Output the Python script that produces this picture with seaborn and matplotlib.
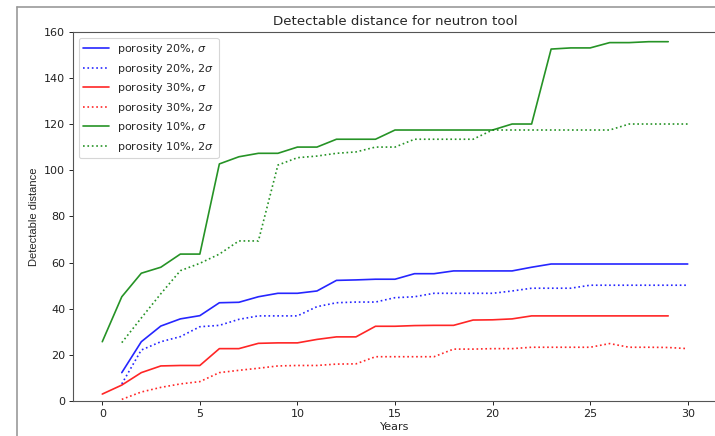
import matplotlib
matplotlib.use("Agg")
import matplotlib.pyplot as plt
from matplotlib.lines import Line2D
import seaborn as sns
import numpy as np

# ---- data ----
years_0_29 = list(range(0, 30))
years_1_30 = list(range(1, 31))

p20_sigma = [12.3, 25.7, 32.5, 35.6, 37.0, 42.6, 42.8, 45.2, 46.7, 46.7,
             47.7, 52.3, 52.5, 52.8, 52.8, 55.2, 55.2, 56.4, 56.4, 56.4,
             56.4, 58.0, 59.4, 59.4, 59.4, 59.4, 59.4, 59.4, 59.4, 59.4]
p20_2sigma = [7.4, 22.1, 25.7, 27.9, 32.2, 32.8, 35.4, 36.9, 36.9, 36.9,
              40.9, 42.6, 42.9, 42.9, 44.8, 45.2, 46.7, 46.7, 46.7, 46.7,
              47.7, 48.9, 48.9, 48.9, 50.2, 50.2, 50.2, 50.2, 50.2, 50.2]
p30_sigma = [3.0, 6.9, 12.3, 15.2, 15.4, 15.4, 22.7, 22.7, 25.0, 25.2,
             25.2, 26.7, 27.8, 27.8, 32.4, 32.4, 32.7, 32.8, 32.8, 35.1,
             35.2, 35.6, 36.9, 36.9, 36.9, 36.9, 36.9, 36.9, 36.9, 36.9]
p30_2sigma = [0.7, 3.9, 5.9, 7.4, 8.4, 12.3, 13.3, 14.2, 15.2, 15.4,
              15.4, 16.0, 16.1, 19.2, 19.2, 19.2, 19.2, 22.5, 22.5, 22.7,
              22.7, 23.3, 23.3, 23.3, 23.3, 24.9, 23.3, 23.3, 23.2, 22.7]
p10_sigma = [25.7, 45.2, 55.4, 58.0, 63.7, 63.7, 102.8, 105.9, 107.4, 107.4,
             110.1, 110.1, 113.5, 113.5, 113.5, 117.5, 117.5, 117.5, 117.5, 117.5,
             117.5, 120.1, 120.1, 152.6, 153.1, 153.1, 155.4, 155.4, 155.8, 155.8]
p10_2sigma = [25.3, 36.0, 46.5, 56.5, 59.7, 63.7, 69.4, 69.4, 102.3, 105.5,
              106.2, 107.4, 108.0, 110.1, 110.1, 113.5, 113.5, 113.5, 113.5, 117.5,
              117.5, 117.5, 117.5, 117.5, 117.5, 117.5, 120.1, 120.1, 120.1, 120.1]

labels = [r"porosity 20%, $\sigma$", r"porosity 20%, 2$\sigma$",
          r"porosity 30%, $\sigma$", r"porosity 30%, 2$\sigma$",
          r"porosity 10%, $\sigma$", r"porosity 10%, 2$\sigma$"]
x_ticks = [0, 5, 10, 15, 20, 25, 30]
y_ticks = [0, 20, 40, 60, 80, 100, 120, 140, 160]

sns.set_style("ticks")
plt.rcParams["font.family"] = ["DejaVu Sans"]

fig = plt.figure(figsize=(7.15, 4.36), dpi=100)
ax = fig.add_axes([0.1021, 0.0803, 0.9007, 0.8463])

series = [
    (years_1_30, p20_sigma, "#0000ff", "-"),
    (years_1_30, p20_2sigma, "#0000ff", ":"),
    (years_0_29, p30_sigma, "#ff0000", "-"),
    (years_1_30, p30_2sigma, "#ff0000", ":"),
    (years_0_29, p10_sigma, "#008000", "-"),
    (years_1_30, p10_2sigma, "#008000", ":"),
]
for (xs, ys, c, ls), lab in zip(series, labels):
    sns.lineplot(x=xs, y=ys, ax=ax, color=c, linestyle=ls, linewidth=1.2,
                 label=lab, alpha=0.85)

ax.set_xlim(-1.5, 31.5)
ax.set_ylim(0, 160)
ax.set_xticks(x_ticks)
ax.set_yticks(y_ticks)
ax.tick_params(labelsize=8, length=2.8, width=0.7, pad=2.8, colors="#222222")
for s in ax.spines.values():
    s.set_linewidth(0.8)
    s.set_color("#555555")
ax.spines["right"].set_visible(False)

ax.set_title("Detectable distance for neutron tool", fontsize=9.6, pad=5)
ax.set_xlabel("Years", fontsize=8, labelpad=2)
ax.set_ylabel("Detectable distance", fontsize=8, family=["Liberation Sans", "DejaVu Sans"], labelpad=4)

leg = ax.legend(loc="upper left", fontsize=8, frameon=True, fancybox=True,
                borderaxespad=0.5, handlelength=2.3)
leg.get_frame().set_edgecolor("#cccccc")
leg.get_frame().set_linewidth(0.8)

# surrounding grey frame visible in the reference
fy = 1 - 7 / 436
fx = 17 / 715
fig.add_artist(Line2D([fx, 1], [fy, fy], transform=fig.transFigure, color="#999999", lw=1.2))
fig.add_artist(Line2D([fx, fx], [0, fy], transform=fig.transFigure, color="#999999", lw=1.2))

fig.savefig("out.png", dpi=100)
